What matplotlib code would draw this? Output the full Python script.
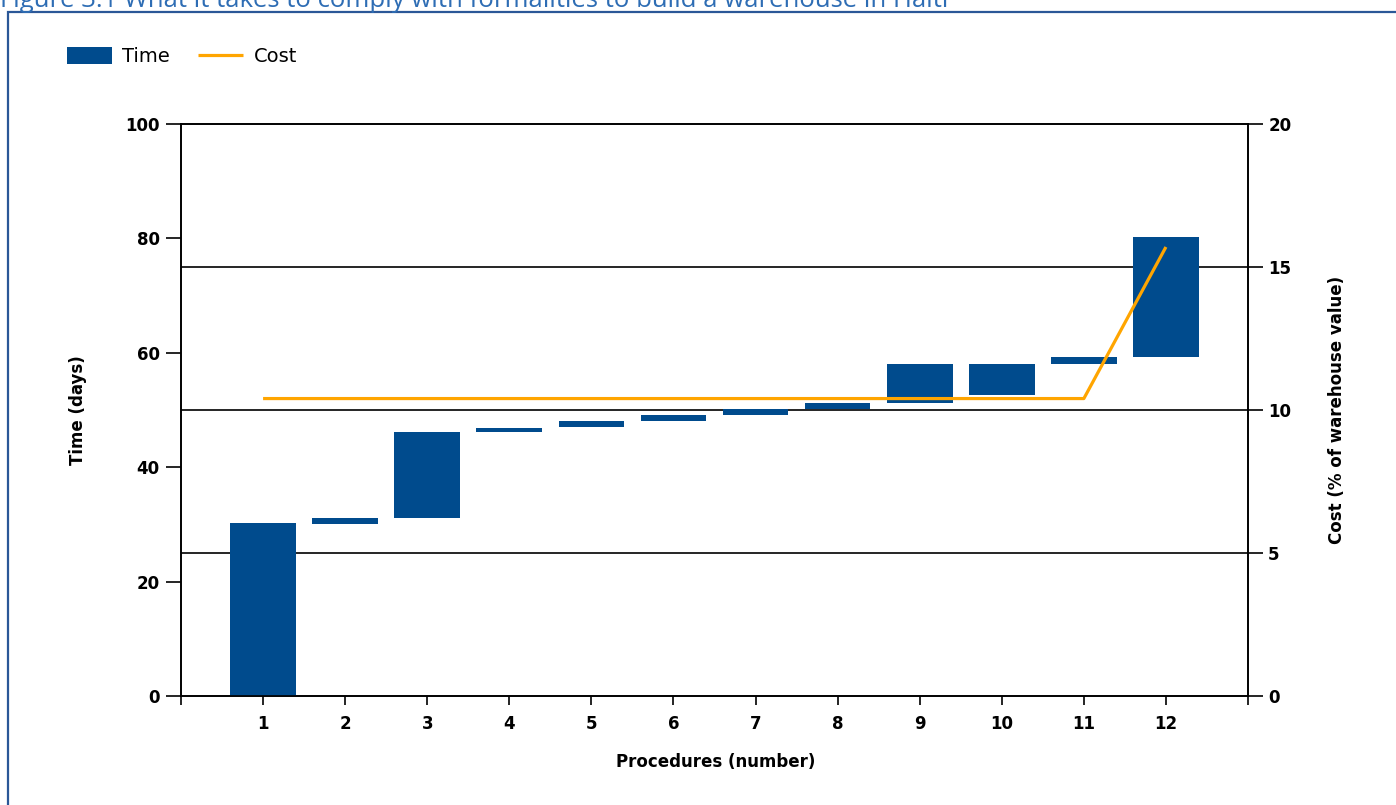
#!/usr/bin/env python3
"""Haiti warehouse permits: time (waterfall bars) and cumulative cost per procedure."""

import matplotlib

matplotlib.use("Agg")
import matplotlib.pyplot as plt
from matplotlib.patches import Rectangle
import numpy as np

# data
procedures = [1, 2, 3, 4, 5, 6, 7, 8, 9, 10, 11, 12]
time_start = [0, 30, 31.2, 46.2, 47.0, 48.0, 49.1, 50.1, 51.2, 52.6, 58.1, 59.3]
time_end = [30.2, 31.2, 46.2, 46.9, 48.0, 49.1, 50.1, 51.2, 58.1, 58.1, 59.2, 80.2]
cost = [10.4, 10.4, 10.4, 10.4, 10.4, 10.4, 10.4, 10.4, 10.4, 10.4, 10.4, 15.7]
time_ticks = [0, 20, 40, 60, 80, 100]
cost_ticks = [0, 5, 10, 15, 20]

title = "Figure 3.1 What it takes to comply with formalities to build a warehouse in Haiti"

bar_color = "#004B8D"
line_color = "#FFA500"
title_color = "#2E6DB4"
frame_color = "#2B5797"
W, H = 1396, 805


def main():
    fig = plt.figure(figsize=(W / 100, H / 100), dpi=100)

    # caption (clipped at the top edge as in the source) and the blue frame
    fig.text(0.0, 1 - 7 / H, title, color=title_color, fontsize=18.5,
             family="Open Sans", ha="left", va="baseline")
    fig.patches.append(Rectangle((8 / W, -0.05), 1.1, 1 - 12 / H + 0.05,
                                 transform=fig.transFigure, fill=False,
                                 edgecolor=frame_color, linewidth=1.6))

    ax = fig.add_axes([181 / W, 1 - 696 / H, 1067 / W, 572 / H])
    ax2 = ax.twinx()

    start = np.array(time_start)
    end = np.array(time_end)
    ax.bar(procedures, end - start, bottom=start, width=0.8, color=bar_color,
           label="Time", zorder=3)
    ax2.plot(procedures, cost, color=line_color, linewidth=2.3, label="Cost",
             solid_capstyle="butt")

    ax.set_xlim(0, 13)
    ax.set_ylim(time_ticks[0], time_ticks[-1])
    ax2.set_ylim(cost_ticks[0], cost_ticks[-1])

    ax.set_xticks(range(0, 14))
    ax.set_xticklabels([""] + [str(p) for p in procedures] + [""])
    ax.set_yticks(time_ticks)
    ax2.set_yticks(cost_ticks)

    # horizontal grid lines follow the cost axis, drawn under the bars
    scale = (time_ticks[-1] - time_ticks[0]) / (cost_ticks[-1] - cost_ticks[0])
    for c in cost_ticks[1:-1]:
        ax.axhline(c * scale, color="black", linewidth=1.2, zorder=1)

    label_kw = dict(fontsize=12, fontweight="bold", family="DejaVu Sans")
    for a in (ax, ax2):
        for spine in a.spines.values():
            spine.set_color("black")
            spine.set_linewidth(1.2)
        for lab in a.get_xticklabels() + a.get_yticklabels():
            lab.set_fontweight("bold")
            lab.set_fontsize(12)
    ax.tick_params(axis="y", length=11, width=1.2, pad=4.3)
    ax.tick_params(axis="x", length=6.5, width=1.2, pad=7.5)
    ax2.tick_params(axis="y", length=11, width=1.2, pad=3.5)

    ax.set_xlabel("Procedures (number)", **label_kw)
    ax.set_ylabel("Time (days)", **label_kw)
    ax2.set_ylabel("Cost (% of warehouse value)", rotation=90, **label_kw)
    ax.xaxis.set_label_coords(0.501, -0.1154)
    ax.xaxis.label.set_verticalalignment("center")
    ax.yaxis.set_label_coords(-0.0965, 0.5)
    ax.yaxis.label.set_verticalalignment("center")
    ax2.yaxis.set_label_coords(1.0834, 0.5)
    ax2.yaxis.label.set_verticalalignment("center")

    handles = ax.get_legend_handles_labels()[0] + ax2.get_legend_handles_labels()[0]
    fig.legend(handles, ["Time", "Cost"], loc="upper left",
               bbox_to_anchor=(67 / W, 1 - 47 / H), ncol=2, frameon=False,
               borderpad=0, borderaxespad=0, handlelength=2.3,
               handleheight=0.95, handletextpad=0.55, columnspacing=1.45,
               prop={"family": "DejaVu Sans", "size": 14})

    fig.savefig("out.png", dpi=100)
    plt.close(fig)


if __name__ == "__main__":
    main()
